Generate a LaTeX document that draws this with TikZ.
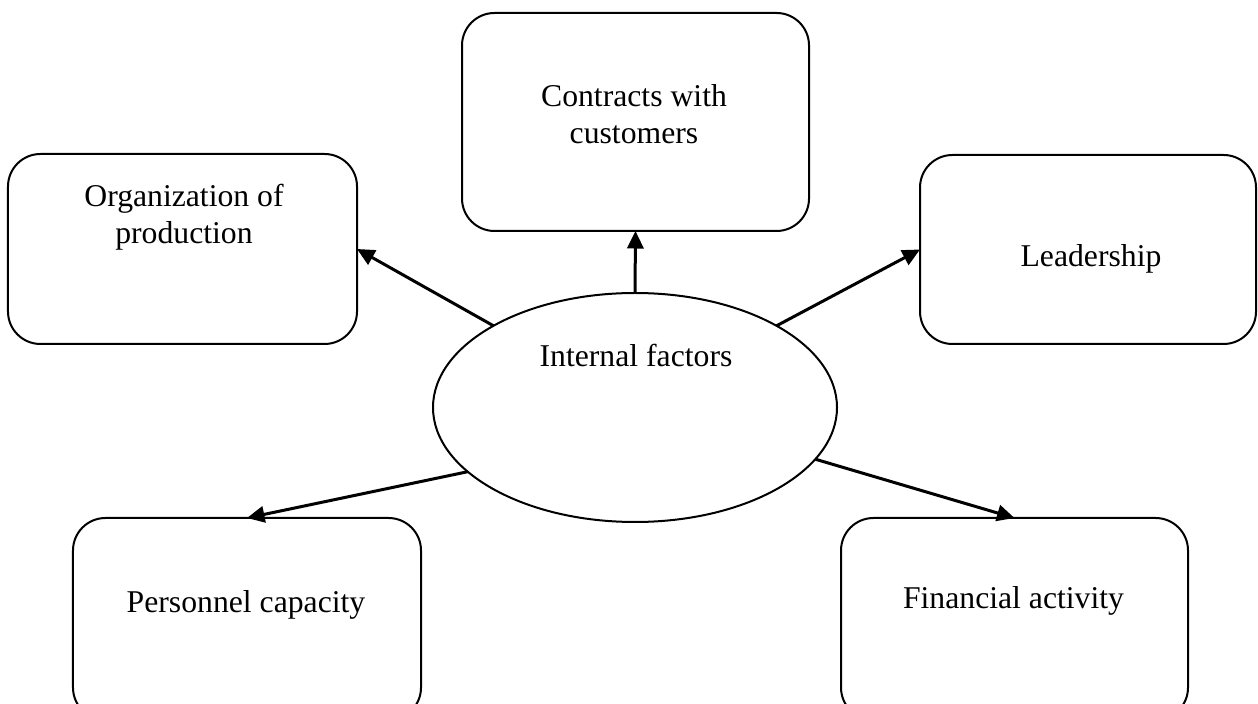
\documentclass[tikz,border=0pt]{standalone}
\usepackage{fontspec}
\setmainfont{Liberation Serif}
\usetikzlibrary{arrows.meta, shapes.geometric}

\tikzset{
  factor/.style={draw, rounded corners=13pt, line width=0.8pt, inner sep=0pt, outer sep=0pt},
  lbl/.style={inner sep=0pt, align=center, font=\fontsize{12.68pt}{14.8pt}\selectfont},
  link/.style={line width=1.2pt, -{Triangle[length=7pt, width=6.5pt]}}
}

\begin{document}
\begin{tikzpicture}[x=0.4pt, y=-0.4pt]
      \clip (0, 0) rectangle (1258, 704);
      % factor boxes
      \node[factor, minimum width=138.8pt, minimum height=87.2pt] (contracts) at (635.5, 122) {};
      \node[factor, minimum width=139.6pt, minimum height=76pt] (org) at (182.5, 249) {};
      \node[factor, minimum width=134.4pt, minimum height=75.6pt] (leader) at (1088, 249.5) {};
      \node[factor, minimum width=139.2pt, minimum height=80.8pt] (personnel) at (247, 619) {};
      \node[factor, minimum width=138.8pt, minimum height=80.8pt] (financial) at (1014.5, 619) {};
      \node[draw, ellipse, line width=0.8pt, inner sep=0pt, outer sep=0pt,
            minimum width=161.6pt, minimum height=91.6pt] (internal) at (635, 407.5) {};
      % labels
      \node[lbl, anchor=north] (contracts-t) at (634, 84) {Contracts with\\customers};
      \node[lbl, anchor=north] (org-t) at (184, 184) {Organization of\\production};
      \node[lbl, anchor=base] (leader-t) at (1091, 267) {Leadership};
      \node[lbl, anchor=base] (personnel-t) at (246, 612) {Personnel capacity};
      \node[lbl, anchor=base] (financial-t) at (1013.5, 608) {Financial activity};
      \node[lbl, anchor=base] (internal-t) at (636, 367) {Internal factors};
      % arrows
      \draw[link] (internal.north) -- (contracts.south);
      \draw[link] (internal.150) -- (org.east);
      \draw[link] (internal.30) -- (leader.west);
      \draw[link] (internal.201) -- (personnel.north);
      \draw[link] (internal.344) -- (financial.north);
\end{tikzpicture}
\end{document}
